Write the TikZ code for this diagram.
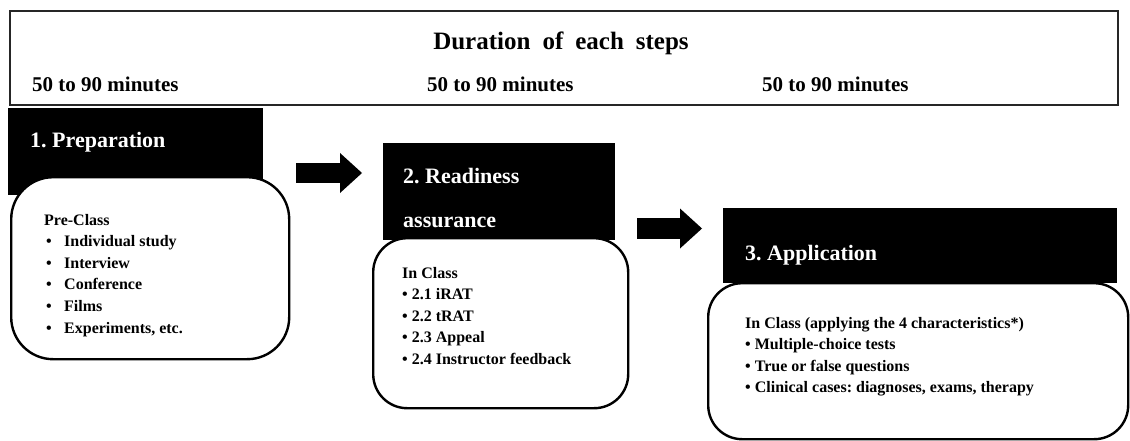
\documentclass[tikz,border=0pt]{standalone}
\usepackage{fontspec}
\setmainfont{Liberation Serif}
\usepackage{tikz}
\usetikzlibrary{positioning,calc}
\usetikzlibrary{arrows.meta}
\frenchspacing
\newcommand\widewords{\spaceskip=12pt plus 2pt\relax}
\tikzset{
  stephead/.style={rectangle,fill=black,draw=none,anchor=north west,inner sep=0pt},
  stepcard/.style={rectangle,draw=black,line width=2.4pt,fill=white,rounded corners=38pt,anchor=north west,inner sep=0pt},
  headtext/.style={anchor=base west,inner sep=0pt,text=white,font=\fontsize{22}{26}\selectfont\bfseries},
  bodytext/.style={anchor=base west,inner sep=0pt,font=\fontsize{16}{19}\selectfont\bfseries},
  durtext/.style={anchor=base west,inner sep=0pt,font=\fontsize{21}{25}\selectfont\bfseries},
  blockarrow/.style={line width=20pt,-{Triangle[length=22pt 0 0,width=40pt 0 0,line width=0pt]}}
}

\begin{document}
\begin{tikzpicture}[x=1pt,y=-1pt]
    \useasboundingbox (0,0) rectangle (1130,441);
    % duration banner
    \node[rectangle,draw=black!85,line width=1.8pt,anchor=north west,inner sep=0pt,
          minimum width=1108pt,minimum height=94pt] (durbox) at (9,10) {};
    \node[anchor=base,inner sep=0pt,font=\fontsize{25}{30}\selectfont\bfseries] (durtitle) at (561,50) {\widewords Duration of each steps};
    \node[durtext] (dur1) at (32,92) {50 to 90 minutes};
    \node[durtext] (dur2) at (427,92) {50 to 90 minutes};
    \node[durtext] (dur3) at (762,92) {50 to 90 minutes};

    % step 1
    \node[stephead,minimum width=255pt,minimum height=87pt] (head1) at (8,108) {};
    \node[headtext] (title1) at (30,148) {1. Preparation};
    \node[stepcard,minimum width=278pt,minimum height=182pt,rounded corners=42pt] (card1) at (10,176) {};
    \node[bodytext] (pre) at (44,225) {Pre-Class};
    \foreach \item [count=\i] in {Individual study,Interview,Conference,Films,{Experiments, etc.}} {
        \node[bodytext] (dot1\i) at (46,{225+21.6*\i}) {\textbullet};
        \node[bodytext] (item1\i) at (64,{225+21.6*\i}) {\item};
    }

    % step 2
    \node[stephead,minimum width=232pt,minimum height=97pt] (head2) at (383,143) {};
    \node[headtext] (title2a) at (403,183) {2. Readiness};
    \node[headtext] (title2b) at (403,227) {assurance};
    \node[stepcard,minimum width=255pt,minimum height=170pt,rounded corners=34pt] (card2) at (372,237) {};
    \node[bodytext] (inclass2) at (402,278) {In Class};
    \foreach \item [count=\i] in {2.1 iRAT,2.2 tRAT,2.3 Appeal,2.4 Instructor feedback} {
        \node[bodytext] (item2\i) at (402,{278+21.5*\i}) {\textbullet\ \item};
    }

    % step 3
    \node[stephead,minimum width=394pt,minimum height=75pt] (head3) at (723,208) {};
    \node[headtext] (title3) at (745,260) {3. Application};
    \node[stepcard,minimum width=420pt,minimum height=156pt,rounded corners=34pt] (card3) at (707,282) {};
    \node[bodytext] (inclass3) at (745,328) {In Class (applying the 4 characteristics*)};
    \foreach \item [count=\i] in {Multiple-choice tests,True or false questions,{Clinical cases: diagnoses, exams, therapy}} {
        \node[bodytext] (item3\i) at (745,{328+21.5*\i}) {\textbullet\ \item};
    }

    % block arrows
    \coordinate (arr1s) at (296,173);
    \coordinate (arr1e) at (362,173);
    \coordinate (arr2s) at (637,228.5);
    \coordinate (arr2e) at (702,228.5);
    \draw[blockarrow] (arr1s) -- (arr1e);
    \draw[blockarrow,line width=21pt] (arr2s) -- (arr2e);
\end{tikzpicture}
\end{document}
